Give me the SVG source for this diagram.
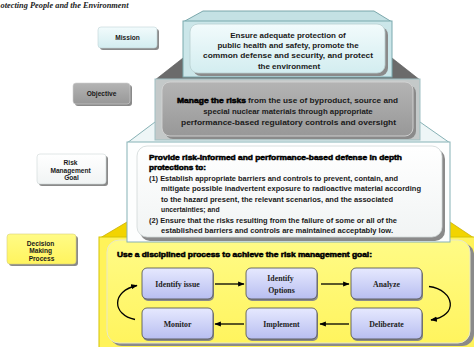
<svg xmlns="http://www.w3.org/2000/svg" width="474" height="347" viewBox="0 0 474 347">
  <defs>
    <linearGradient id="gCyan" x1="0" y1="0" x2="0" y2="1">
      <stop offset="0" stop-color="#f2fbfc"/>
      <stop offset="1" stop-color="#d3edf0"/>
    </linearGradient>
    <linearGradient id="gGrey" x1="0" y1="0" x2="0" y2="1">
      <stop offset="0" stop-color="#b4b4b4"/>
      <stop offset="1" stop-color="#989898"/>
    </linearGradient>
    <linearGradient id="gWhite" x1="0" y1="0" x2="0" y2="1">
      <stop offset="0" stop-color="#ffffff"/>
      <stop offset="1" stop-color="#f1f4f4"/>
    </linearGradient>
    <linearGradient id="gYellow" x1="0" y1="0" x2="0" y2="1">
      <stop offset="0" stop-color="#fffb86"/>
      <stop offset="1" stop-color="#fff45e"/>
    </linearGradient>
    <linearGradient id="gStep" x1="0" y1="0" x2="0" y2="1">
      <stop offset="0" stop-color="#e6e9ff"/>
      <stop offset="1" stop-color="#b8bef0"/>
    </linearGradient>
    <marker id="arr" viewBox="0 0 10 10" refX="9" refY="5" markerWidth="5" markerHeight="5" orient="auto">
      <path d="M0,1 L10,5 L0,9 z" fill="#000"/>
    </marker>
  </defs>
  <style>
    .sans { font-family: "Liberation Sans", Arial, sans-serif; font-weight: bold; fill: #1a1a1a; }
    .heavy { font-family: "Liberation Sans", Arial, sans-serif; font-weight: 900; fill: #000; stroke: #000; stroke-width: 0.5; }
    .serif { font-family: "Liberation Serif", "Times New Roman", serif; font-weight: bold; fill: #222; }
    .lbl { font-size: 6.6px; text-anchor: middle; }
    .shadow { fill: #8a8a8a; }
    .step { fill: url(#gStep); stroke: #4a4a4a; stroke-width: 0.8; }
    .conn { fill: none; stroke: #000; stroke-width: 1.3; marker-end: url(#arr); }
  </style>

  <rect width="474" height="347" fill="#fff"/>

  <!-- running header -->
  <text x="0.5" y="8" font-family="Liberation Serif, serif" font-style="italic" font-weight="bold" font-size="8.2" fill="#222" textLength="128" lengthAdjust="spacingAndGlyphs">otecting People and the Environment</text>

  <!-- tier 4: decision making process -->
  <g id="tier-decision">
    <polygon points="127,222 450,222 474,238 100,238" fill="#f2d400" stroke="#c9b000" stroke-width="0.8"/>
    <rect x="99" y="237" width="378" height="112" fill="#fff35a" stroke="#d6c400" stroke-width="1"/>
    <rect x="110" y="243" width="364" height="103" rx="12" class="shadow"/>
    <rect x="107" y="240" width="363" height="103" rx="12" fill="url(#gYellow)" stroke="#e8e8c8" stroke-width="1"/>
    <text x="117" y="256.5" class="heavy" font-size="7.3" textLength="255" lengthAdjust="spacingAndGlyphs">Use a disciplined process to achieve the risk management goal:</text>
  </g>

  <!-- tier 3: risk management goal -->
  <g id="tier-goal">
    <polygon points="155,122 420,122 450,143 127,143" fill="#eef6f7" stroke="#79a8ad" stroke-width="0.9"/>
    <rect x="127" y="142" width="323" height="100" fill="#fdfefe" stroke="#86b1b6" stroke-width="1"/>
    <rect x="140" y="149" width="305" height="92" rx="10" class="shadow"/>
    <rect x="137" y="146" width="305" height="91" rx="10" fill="url(#gWhite)" stroke="#d0d8d8" stroke-width="0.8"/>
    <text x="149" y="159.5" class="heavy" font-size="7.4" textLength="253" lengthAdjust="spacingAndGlyphs">Provide risk-informed and performance-based defense in depth</text>
    <text x="149" y="169.5" class="heavy" font-size="7.4" textLength="57" lengthAdjust="spacingAndGlyphs">protections to:</text>
    <g class="sans" font-size="6.8">
      <text x="149" y="180.5" textLength="249" lengthAdjust="spacingAndGlyphs">(1) Establish appropriate barriers and controls to prevent, contain, and</text>
      <text x="161" y="191" textLength="260" lengthAdjust="spacingAndGlyphs">mitigate possible inadvertent exposure to radioactive material according</text>
      <text x="161" y="201.5" textLength="232" lengthAdjust="spacingAndGlyphs">to the hazard present, the relevant scenarios, and the associated</text>
      <text x="161" y="212">uncertainties; and</text>
      <text x="149" y="222.5" textLength="248" lengthAdjust="spacingAndGlyphs">(2) Ensure that the risks resulting from the failure of some or all of the</text>
      <text x="161" y="233" textLength="232" lengthAdjust="spacingAndGlyphs">established barriers and controls are maintained acceptably low.</text>
    </g>
  </g>

  <!-- tier 2: objective -->
  <g id="tier-objective">
    <polygon points="183,58 392,58 420,80 155,80" fill="#6b6b6b" stroke="#555" stroke-width="0.6"/>
    <rect x="155" y="79" width="265" height="61" fill="#c4c9c9" stroke="#9fc0c3" stroke-width="1"/>
    <rect x="165" y="85" width="251" height="54" rx="8" class="shadow"/>
    <rect x="162" y="82" width="251" height="54" rx="8" fill="url(#gGrey)" stroke="#d4d4d4" stroke-width="0.9"/>
    <text y="102.5" font-size="7.8">
      <tspan x="177" class="heavy" textLength="69" lengthAdjust="spacingAndGlyphs">Manage the risks</tspan>
      <tspan x="248" class="sans" textLength="150" lengthAdjust="spacingAndGlyphs">from the use of byproduct, source and</tspan>
    </text>
    <text x="288" y="113.5" class="sans" font-size="7.8" text-anchor="middle">special nuclear materials through appropriate</text>
    <text x="288.5" y="124.5" class="sans" font-size="7.8" text-anchor="middle" textLength="215" lengthAdjust="spacingAndGlyphs">performance-based regulatory controls and oversight</text>
  </g>

  <!-- tier 1: mission -->
  <g id="tier-mission">
    <polygon points="203,11 374,11 392,22 183,22" fill="#c4e1e4" stroke="#6f9fa4" stroke-width="0.9"/>
    <rect x="183" y="21" width="209" height="56" fill="#cbe6e9" stroke="#7aa9ae" stroke-width="1"/>
    <rect x="193" y="27" width="195" height="49" rx="8" class="shadow"/>
    <rect x="190" y="24" width="195" height="49" rx="8" fill="url(#gCyan)" stroke="#b9cfd1" stroke-width="0.8"/>
    <g class="sans" font-size="8" text-anchor="middle">
      <text x="288" y="37.8">Ensure adequate protection of</text>
      <text x="288" y="48">public health and safety, promote the</text>
      <text x="288" y="58.3" textLength="170" lengthAdjust="spacingAndGlyphs">common defense and security, and protect</text>
      <text x="289" y="68.5">the environment</text>
    </g>
  </g>

  <!-- side labels -->
  <g id="label-mission">
    <rect x="100" y="29" width="59" height="21" rx="3" class="shadow"/>
    <rect x="98" y="27" width="59" height="21" rx="3" fill="url(#gCyan)" stroke="#c0d4d6" stroke-width="0.6"/>
    <text x="127.5" y="40" class="sans lbl">Mission</text>
  </g>
  <g id="label-objective">
    <rect x="75" y="85" width="57" height="21" rx="3" class="shadow"/>
    <rect x="73" y="83" width="57" height="21" rx="3" fill="url(#gGrey)" stroke="#d0d0d0" stroke-width="0.6"/>
    <text x="101.5" y="96" class="sans lbl">Objective</text>
  </g>
  <g id="label-goal">
    <rect x="39" y="156" width="69" height="30" rx="3" class="shadow"/>
    <rect x="37" y="154" width="69" height="30" rx="3" fill="url(#gWhite)" stroke="#cfd6d6" stroke-width="0.6"/>
    <text class="sans lbl">
      <tspan x="71.5" y="165">Risk</tspan>
      <tspan x="71.5" y="172.6">Management</tspan>
      <tspan x="71.5" y="180.2">Goal</tspan>
    </text>
  </g>
  <g id="label-decision">
    <rect x="9" y="236" width="69" height="30" rx="3" class="shadow"/>
    <rect x="7" y="234" width="69" height="30" rx="3" fill="url(#gYellow)" stroke="#d8d27a" stroke-width="0.6"/>
    <text class="sans lbl">
      <tspan x="41.5" y="245.5">Decision</tspan>
      <tspan x="41.5" y="253">Making</tspan>
      <tspan x="41.5" y="260.5">Process</tspan>
    </text>
  </g>

  <!-- process steps -->
  <g id="step-identify-issue">
    <rect x="143" y="270" width="71" height="31" rx="5" class="shadow"/>
    <rect x="142" y="268" width="71" height="31" rx="5" class="step"/>
    <text x="177.5" y="286.5" class="serif" font-size="7.8" text-anchor="middle">Identify issue</text>
  </g>
  <g id="step-identify-options">
    <rect x="247" y="270" width="71" height="31" rx="5" class="shadow"/>
    <rect x="246" y="268" width="71" height="31" rx="5" class="step"/>
    <text class="serif" font-size="7.8" text-anchor="middle">
      <tspan x="281.5" y="281">Identify</tspan>
      <tspan x="281.5" y="292.5">Options</tspan>
    </text>
  </g>
  <g id="step-analyze">
    <rect x="352" y="270" width="71" height="31" rx="5" class="shadow"/>
    <rect x="351" y="268" width="71" height="31" rx="5" class="step"/>
    <text x="386.5" y="286.5" class="serif" font-size="7.8" text-anchor="middle">Analyze</text>
  </g>
  <g id="step-monitor">
    <rect x="143" y="310" width="71" height="31" rx="5" class="shadow"/>
    <rect x="142" y="308" width="71" height="31" rx="5" class="step"/>
    <text x="177.5" y="326.5" class="serif" font-size="7.8" text-anchor="middle">Monitor</text>
  </g>
  <g id="step-implement">
    <rect x="247" y="310" width="71" height="31" rx="5" class="shadow"/>
    <rect x="246" y="308" width="71" height="31" rx="5" class="step"/>
    <text x="281.5" y="326.5" class="serif" font-size="7.8" text-anchor="middle">Implement</text>
  </g>
  <g id="step-deliberate">
    <rect x="352" y="310" width="71" height="31" rx="5" class="shadow"/>
    <rect x="351" y="308" width="71" height="31" rx="5" class="step"/>
    <text x="386.5" y="326.5" class="serif" font-size="7.8" text-anchor="middle">Deliberate</text>
  </g>

  <!-- connectors between steps -->
  <g id="connectors">
    <line x1="215" y1="284" x2="244" y2="284" class="conn"/>
    <line x1="321" y1="284" x2="349" y2="284" class="conn"/>
    <line x1="349" y1="324" x2="320" y2="324" class="conn"/>
    <line x1="244" y1="324" x2="215" y2="324" class="conn"/>
    <path d="M429,286.5 C455,290 459,316 431,320" class="conn"/>
    <path d="M135,319.5 C112,315 111,291 137,285.5" class="conn"/>
  </g>
</svg>
